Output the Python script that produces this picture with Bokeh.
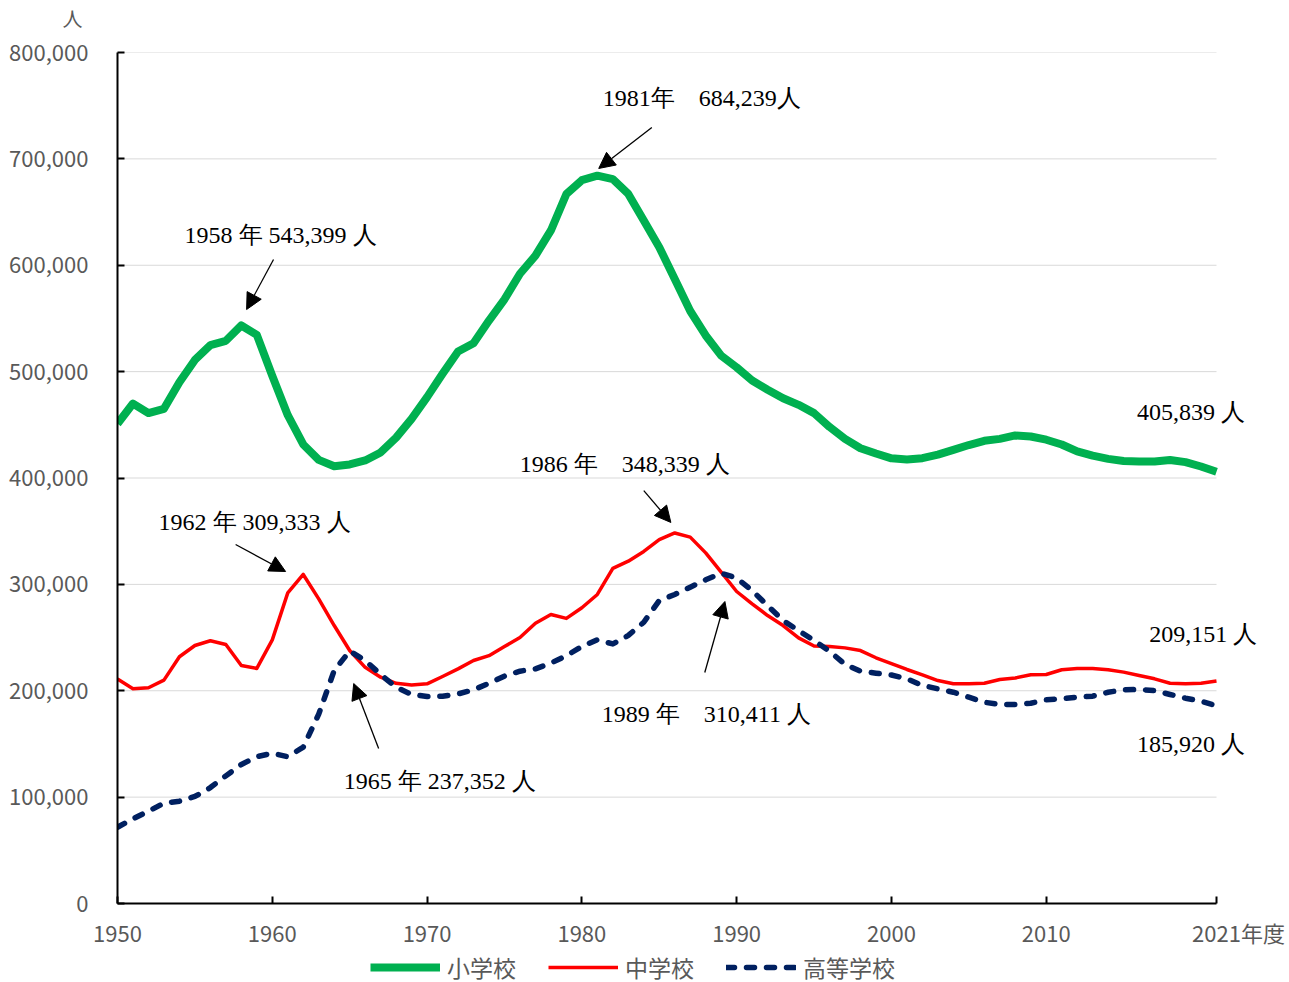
from bokeh.plotting import figure
from bokeh.layouts import column
from bokeh.models import (Range1d, FixedTicker, NumeralTickFormatter, Label, Arrow,
                          NormalHead, Legend, LegendItem, ColumnDataSource)
from bokeh.embed import file_html
from bokeh.resources import INLINE

years = list(range(1950, 2022))
elementary = [451000, 470000, 461000, 465000, 490000, 511000, 525000, 529000, 543399, 534600,
              496000, 459000, 431500, 417000, 411000, 412700, 416500, 424000, 438000, 455600,
              476000, 498000, 519000, 526700, 548000, 568000, 592000, 609000, 632700, 667000,
              680000, 684239, 681000, 667000, 642000, 617000, 587000, 557000, 534000, 515000,
              504000, 491600, 483000, 475000, 468800, 461000, 448000, 436800, 428000, 423000,
              418500, 417400, 418600, 422000, 426500, 431000, 435000, 436800, 440000, 439000,
              436000, 431500, 425000, 421000, 418000, 416000, 415500, 415500, 417000, 414900,
              410800, 405839]
middle = [211000, 201800, 202800, 210000, 232000, 242500, 247000, 243500, 223700, 221000,
          247800, 292000, 309333, 286400, 261300, 237800, 222000, 212700, 207000, 205500,
          206500, 213400, 220600, 228400, 233000, 241500, 250000, 263500, 271700, 268000,
          278000, 290500, 315000, 321800, 331000, 342000, 348339, 344400, 329600, 311500,
          293300, 281700, 270700, 261300, 249700, 242000, 241600, 240300, 237800, 231000,
          225500, 220000, 215000, 209600, 206500, 206500, 207000, 210600, 212000, 215000,
          215300, 219700, 221000, 221000, 219700, 217500, 214300, 211200, 207000, 206500,
          207000, 209151]
high = [71700, 79600, 86800, 94300, 96200, 100600, 109000, 120000, 130700, 138000,
        141300, 138000, 147000, 178000, 219000, 237352, 228400, 215300, 203300, 196500,
        194600, 194900, 197000, 200900, 207000, 213800, 218400, 220600, 226000, 233000,
        241600, 247900, 244000, 252000, 264400, 284800, 290500, 297400, 304300, 310411,
        306000, 294200, 280000, 266000, 256600, 247200, 237200, 224700, 218400, 216500,
        214800, 211200, 205000, 201800, 198600, 194000, 189200, 187000, 187000, 188300,
        191500, 192400, 194000, 194900, 198600, 200900, 201200, 200200, 196500, 193000,
        190200, 185920]

series_names = ["小学校", "中学校", "高等学校"]
series_colors = ["#00B050", "#FF0000", "#002060"]
x_ticks = [1950, 1960, 1970, 1980, 1990, 2000, 2010, 2021]
y_ticks = [0, 100000, 200000, 300000, 400000, 500000, 600000, 700000, 800000]
y_unit = "人"
x_unit = "年度"

lab_font = "Noto Sans CJK JP"
gray = "#595959"
serif = "Liberation Serif"
W = 1289
LEFT = 117
TOP_H = 35
BOT_H = 34

src = ColumnDataSource(dict(year=years, e=elementary, m=middle, h=high))

x0, x1 = years[0], years[-1]
px_per_year = 1099 / (x1 - x0)
frame_w = W - LEFT
x_end = x0 + frame_w / px_per_year


def strip(height, with_axis=False):
    f = figure(width=W, height=height, output_backend="svg", toolbar_location=None,
               x_range=Range1d(0, frame_w), y_range=Range1d(0, height),
               x_axis_location=None, y_axis_location=("left" if with_axis else None),
               min_border=0, min_border_left=LEFT)
    f.outline_line_color = None
    f.xgrid.grid_line_color = None
    f.ygrid.grid_line_color = None
    f.background_fill_color = "white"
    f.border_fill_color = "white"
    return f


# top strip: unit of the y axis, as a single-label axis
top = strip(TOP_H, with_axis=True)
unit_pos = TOP_H - 23
top.yaxis.ticker = FixedTicker(ticks=[unit_pos])
top.yaxis.major_label_overrides = {unit_pos: y_unit}
top.yaxis.axis_line_color = None
top.yaxis.major_tick_line_color = None
top.yaxis.minor_tick_line_color = None
top.yaxis.major_label_standoff = 29
top.yaxis.major_label_text_font = lab_font
top.yaxis.major_label_text_font_size = "20px"
top.yaxis.major_label_text_color = gray

# main chart
p = figure(frame_width=frame_w, frame_height=851, output_backend="svg", toolbar_location=None,
           x_range=Range1d(x0, x_end), y_range=Range1d(0, 800000),
           min_border_left=LEFT, min_border_right=0, min_border_top=52 - TOP_H,
           min_border_bottom=79 - BOT_H)
p.outline_line_color = None
p.background_fill_color = "white"
p.border_fill_color = "white"

p.xaxis.ticker = FixedTicker(ticks=x_ticks)
p.xaxis.bounds = (x0, x1)
p.xaxis.major_label_overrides = {x1: "\u3000\u3000" + str(x1) + x_unit}
p.yaxis.ticker = FixedTicker(ticks=y_ticks)
p.yaxis.formatter = NumeralTickFormatter(format="0,0")
for ax in (p.xaxis, p.yaxis):
    ax.axis_line_color = "black"
    ax.axis_line_width = 2
    ax.major_tick_line_color = "black"
    ax.major_tick_line_width = 2
    ax.major_tick_in = 7
    ax.major_tick_out = 0
    ax.minor_tick_line_color = None
    ax.major_label_text_font = lab_font
    ax.major_label_text_font_size = "22px"
    ax.major_label_text_color = gray
p.yaxis.major_label_standoff = 29
p.xaxis.major_label_standoff = 12
p.xgrid.grid_line_color = None
p.ygrid.grid_line_color = None

# horizontal gridlines limited to the data span
gy = y_ticks[1:]
p.segment(x0=[x0] * len(gy), x1=[x1] * len(gy), y0=gy, y1=gy,
          line_color="#d9d9d9", line_width=1)

styles = [dict(line_color=series_colors[0], line_width=8, line_join="round"),
          dict(line_color=series_colors[1], line_width=3.5, line_join="round"),
          dict(line_color=series_colors[2], line_width=5.5, line_dash="8 12",
               line_cap="round", line_join="round")]
cols = ["e", "m", "h"]
for c, st in zip(cols, styles):
    p.line("year", c, source=src, **st)


def fmt(v):
    return f"{v:,}"

e_peak1 = years.index(1958)
e_peak2 = years.index(1981)
m_peak1 = years.index(1962)
m_peak2 = years.index(1986)
h_peak1 = years.index(1965)
h_peak2 = years.index(1989)

notes = [
    (f"{years[e_peak1]} 年 {fmt(elementary[e_peak1])} 人", 1954.33, 628000),
    (f"{years[e_peak2]}年\u3000{fmt(elementary[e_peak2])}人", 1981.35, 756800),
    (f"{years[m_peak1]} 年 {fmt(middle[m_peak1])} 人", 1952.65, 358200),
    (f"{years[h_peak1]} 年 {fmt(high[h_peak1])} 人", 1964.61, 114700),
    (f"{years[m_peak2]} 年\u3000{fmt(middle[m_peak2])} 人", 1975.99, 412700),
    (f"{years[h_peak2]} 年\u3000{fmt(high[h_peak2])} 人", 1981.29, 178600),
    (f"{fmt(elementary[-1])} 人", 2015.87, 462500),
    (f"{fmt(middle[-1])} 人", 2016.65, 253800),
    (f"{fmt(high[-1])} 人", 2015.87, 149500),
]
for t, x, y in notes:
    p.add_layout(Label(x=x, y=y, text=t, text_font=serif, text_font_size="24px",
                       text_color="black", text_align="left", text_baseline="middle"))

arrows = [
    (1960.08, 605400, 1958.34, 558400),
    (1984.52, 729500, 1981.09, 691000),
    (1957.63, 337500, 1960.86, 312100),
    (1966.87, 145700, 1965.26, 206800),
    (1984.00, 388200, 1985.75, 358200),
    (1987.94, 217200, 1989.24, 283900),
]
for ax0, ay0, ax1, ay1 in arrows:
    p.add_layout(Arrow(end=NormalHead(size=16, fill_color="black", line_color="black",
                                      line_width=1),
                       x_start=ax0, y_start=ay0, x_end=ax1, y_end=ay1,
                       line_color="black", line_width=1.3))

# legend strip (series drawn out of this strip's view; only their legend keys show)
bot = strip(BOT_H)
leg_r = [bot.line("year", c, source=src, **st) for c, st in zip(cols, styles)]
legend = Legend(items=[LegendItem(label=n, renderers=[r]) for n, r in zip(series_names, leg_r)],
                orientation="horizontal", location=(370 - LEFT, 0),
                glyph_width=70, glyph_height=BOT_H - 2, label_standoff=7, spacing=32,
                padding=1, margin=0, border_line_color=None, background_fill_alpha=0,
                label_text_font=lab_font, label_text_font_size="23px",
                label_text_color=gray, label_height=BOT_H - 2)
bot.add_layout(legend, "center")

layout = column(top, p, bot, spacing=0)
open("out.html", "w").write(file_html(layout, INLINE))
